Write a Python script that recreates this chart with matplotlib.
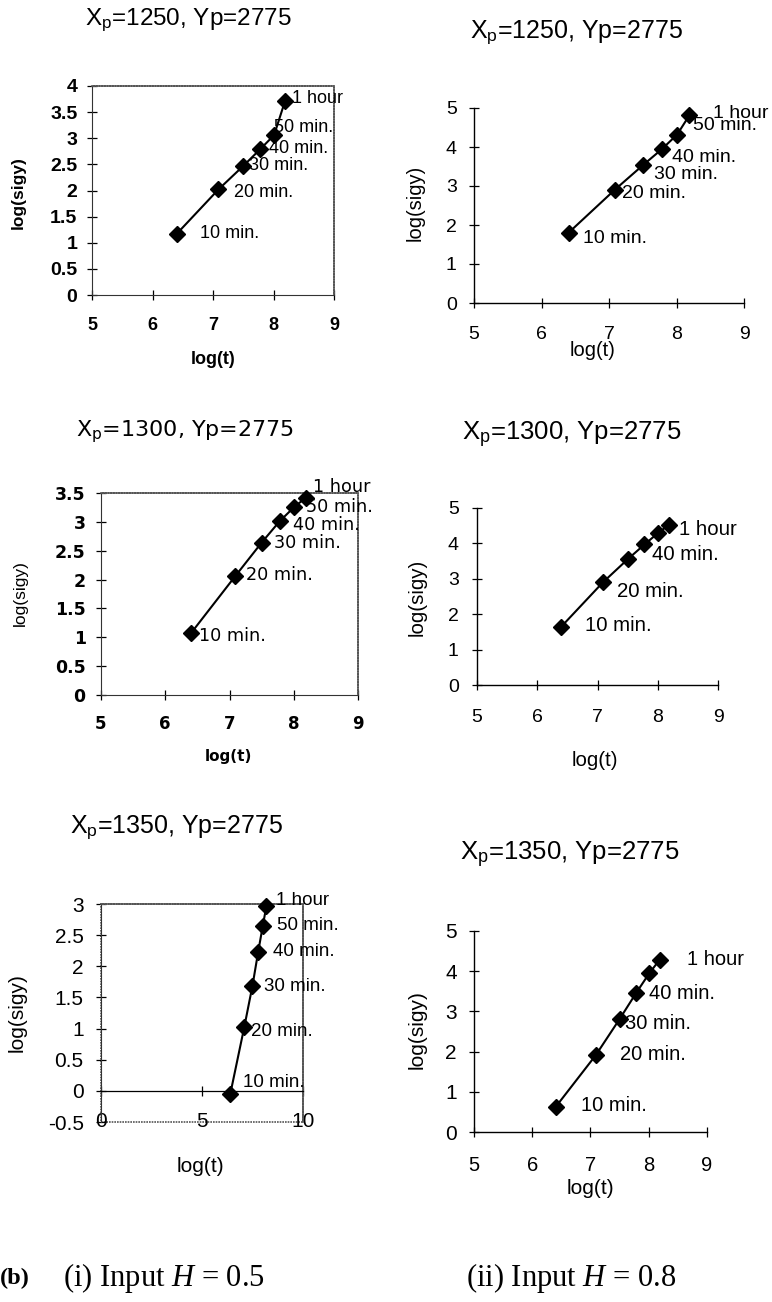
import matplotlib
matplotlib.use("Agg")
import matplotlib.pyplot as plt
from matplotlib.patches import Rectangle

plt.rcParams['font.family'] = ['Liberation Sans', 'DejaVu Sans']
plt.rcParams['mathtext.fontset'] = 'custom'
plt.rcParams['mathtext.it'] = 'Liberation Serif:italic'
plt.rcParams['mathtext.rm'] = 'Liberation Serif'

# data: log(t) for 10..60 min, log(sigy) per panel
log_t = [6.40, 7.09, 7.50, 7.78, 8.01, 8.19]
time_labels = ["10 min.", "20 min.", "30 min.", "40 min.", "50 min.", "1 hour"]

sigy_1250_h05 = [1.17, 2.02, 2.47, 2.79, 3.06, 3.71]
sigy_1250_h08 = [1.80, 2.91, 3.53, 3.94, 4.32, 4.81]
sigy_1300_h05 = [1.07, 2.06, 2.64, 3.01, 3.26, 3.42]
sigy_1300_h08 = [1.65, 2.90, 3.55, 3.97, 4.30, 4.53]
sigy_1350_h05 = [-0.05, 1.02, 1.69, 2.23, 2.65, 2.97]
sigy_1350_h08 = [0.62, 1.91, 2.81, 3.45, 3.95, 4.29]

titles = ["1250", "1250", "1300", "1300", "1350", "1350"]
captions = ["(i) Input $H$ = 0.5", "(ii) Input $H$ = 0.8"]

W, H = 772, 1302
fig = plt.figure(figsize=(W / 100, H / 100), dpi=100)
SANS = ['Liberation Sans', 'DejaVu Sans']


def px_axes(l, r, t, b):
    return fig.add_axes([l / W, 1 - b / H, (r - l) / W, (b - t) / H])


def ftext(x, y, s, **kw):
    fig.text(x / W, 1 - y / H, s, **kw)


# each panel: y data, box, axis limits, ticks, text spots, fonts
panels = [
    dict(y=sigy_1250_h05, box=(92, 334, 86, 295), ylim=(0, 4), ystep=0.5,
         xlim=(5, 9), xticks=[5, 6, 7, 8, 9], frame=True,
         title=(188, 20, 17.5), xlab=(213, 360), ylab=(18, 193),
         tickw='bold', labw='bold', fam=SANS, lfam=SANS,
         ytfs=14, xtfs=13, ylfs=12.5, xlfs=13, afs=13, xpad=12, ypad=7,
         ann=[(0, 6.79, 1.17), (1, 7.34, 1.97), (2, 7.60, 2.47),
              (3, 7.92, 2.81), (4, 8.00, 3.20), (5, 8.31, 3.76)]),
    dict(y=sigy_1250_h08, box=(474, 744, 108, 303), ylim=(0, 5), ystep=1,
         xlim=(5, 9), xticks=[5, 6, 7, 8, 9], frame=False,
         title=(577, 33, 18), xlab=(593, 351), ylab=(415, 203),
         tickw='normal', labw='normal', fam=SANS, lfam=SANS,
         ytfs=14, xtfs=14, ylfs=14.5, xlfs=14.5, afs=14, xpad=13, ypad=9,
         ann=[(0, 6.61, 1.65), (1, 7.19, 2.80), (2, 7.66, 3.29),
              (3, 7.93, 3.74), (4, 8.25, 4.54), (5, 8.54, 4.86)]),
    dict(y=sigy_1300_h05, box=(101, 358, 493, 695), ylim=(0, 3.5), ystep=0.5,
         xlim=(5, 9), xticks=[5, 6, 7, 8, 9], frame=True,
         title=(185, 432, 16), xlab=(228, 756), ylab=(20, 593),
         tickw='bold', labw='normal', fam='DejaVu Sans', lfam=SANS,
         ytfs=12.5, xtfs=12, ylfs=12.5, xlfs=11, afs=12.7, xpad=11, ypad=7.5,
         ann=[(0, 6.53, 1.02), (1, 7.25, 2.08), (2, 7.69, 2.64),
              (3, 7.99, 2.95), (4, 8.19, 3.25), (5, 8.30, 3.60)]),
    dict(y=sigy_1300_h08, box=(477, 718, 508, 685), ylim=(0, 5), ystep=1,
         xlim=(5, 9), xticks=[5, 6, 7, 8, 9], frame=False,
         title=(572, 435, 18.5), xlab=(595, 760), ylab=(417, 597),
         tickw='normal', labw='normal', fam=SANS, lfam=SANS,
         ytfs=14, xtfs=14, ylfs=14.8, xlfs=14.8, afs=14.7, xpad=14, ypad=9.7,
         ann=[(0, 6.80, 1.67), (1, 7.32, 2.65), (3, 7.90, 3.69),
              (5, 8.36, 4.39)]),
    dict(y=sigy_1350_h05, box=(101, 303, 904, 1122), ylim=(-0.5, 3), ystep=0.5,
         xlim=(0, 10), xticks=[0, 5, 10], frame=True, zero_axis=True,
         title=(177, 828, 18), xlab=(200, 1166), ylab=(17, 1013),
         tickw='normal', labw='normal', fam=SANS, lfam=SANS,
         ytfs=15, xtfs=15, ylfs=15, xlfs=15, afs=13.5, xpad=12, ypad=9,
         ann=[(0, 7.01, 0.13), (1, 7.42, 0.96), (2, 8.05, 1.68),
              (3, 8.51, 2.23), (4, 8.71, 2.65), (5, 8.68, 3.06)]),
    dict(y=sigy_1350_h08, box=(474, 707, 931, 1132), ylim=(0, 5), ystep=1,
         xlim=(5, 9), xticks=[5, 6, 7, 8, 9], frame=False,
         title=(570, 855, 18.5), xlab=(590, 1188), ylab=(417, 1030),
         tickw='normal', labw='normal', fam=SANS, lfam=SANS,
         ytfs=15, xtfs=14.5, ylfs=15, xlfs=15, afs=14.5, xpad=14, ypad=9,
         ann=[(0, 6.84, 0.66), (1, 7.51, 1.94), (2, 7.60, 2.70),
              (3, 8.00, 3.45), (5, 8.65, 4.29)]),
]

for i, p in enumerate(panels):
    fam = p['fam']
    ax = px_axes(*p['box'])
    # spine position first: moving a spine resets the tick objects
    if p.get('zero_axis'):
        ax.spines['bottom'].set_position(('data', 0))

    ax.plot(log_t, p['y'], color='black', lw=1.5, marker='D', ms=8,
            markerfacecolor='black', zorder=3, clip_on=False)
    ax.set_xlim(*p['xlim'])
    ax.set_ylim(*p['ylim'])
    ax.set_xticks(p['xticks'])
    lo, hi = p['ylim']
    n = int(round((hi - lo) / p['ystep']))
    yt = [lo + k * p['ystep'] for k in range(n + 1)]
    ax.set_yticks(yt)
    ax.set_yticklabels([('%g' % v) for v in yt])
    ax.set_xticklabels([str(v) for v in p['xticks']])
    for lab in ax.get_yticklabels():
        lab.set_family(fam)
        lab.set_weight(p['tickw'])
        lab.set_fontsize(p['ytfs'])
    for lab in ax.get_xticklabels():
        lab.set_family(fam)
        lab.set_weight(p['tickw'])
        lab.set_fontsize(p['xtfs'])
    ax.tick_params(axis='both', direction='inout', length=7, width=0.9,
                   color='black')
    ax.tick_params(axis='x', pad=p['xpad'])
    ax.tick_params(axis='y', pad=p['ypad'])
    ax.set_facecolor('none')

    if p['frame']:
        for s in ['top', 'right']:
            ax.spines[s].set_color('#555555')
            ax.spines[s].set_linestyle((0, (1, 0.6)))
            ax.spines[s].set_linewidth(1.2)
        ax.spines['left'].set_color('#333333')
        ax.spines['bottom'].set_color('#333333')
        if p.get('zero_axis'):
            ax.spines['bottom'].set_color('black')
            ax.spines['bottom'].set_linewidth(0.9)
            ax.add_patch(Rectangle((0, 0), 1, 1, transform=ax.transAxes,
                                   fill=False, edgecolor='#555555', lw=1.2,
                                   linestyle=(0, (1, 0.6)), clip_on=False))
    else:
        ax.spines['top'].set_visible(False)
        ax.spines['right'].set_visible(False)
        ax.spines['left'].set_linewidth(1.0)
        ax.spines['bottom'].set_linewidth(1.0)

    for idx, tx, ty in p['ann']:
        ax.text(tx, ty, time_labels[idx], ha='left', va='center',
                fontsize=p['afs'], family=fam, clip_on=False, zorder=4)

    tx, ty, tfs = p['title']
    ftext(tx, ty, r'X$_\mathregular{p}$=' + titles[i] + ', Yp=2775',
          ha='center', va='center', fontsize=tfs, family=fam)
    xw = 'bold' if i in (0, 2) else p['labw']
    ftext(p['xlab'][0], p['xlab'][1], 'log(t)', ha='center', va='center',
          fontsize=p['xlfs'], weight=xw, family=fam)
    ftext(p['ylab'][0], p['ylab'][1], 'log(sigy)', ha='center', va='center',
          rotation=90, fontsize=p['ylfs'], weight=p['labw'] if i else 'bold',
          family=p['lfam'])

ftext(15, 1278, '(b)', ha='center', va='center', fontsize=17.5,
      family='Liberation Serif', weight='bold')
ftext(164, 1278, captions[0], ha='center', va='center', fontsize=22,
      family='Liberation Serif')
ftext(571, 1278, captions[1], ha='center', va='center', fontsize=22,
      family='Liberation Serif')

fig.savefig('out.png', dpi=100, facecolor='white')
